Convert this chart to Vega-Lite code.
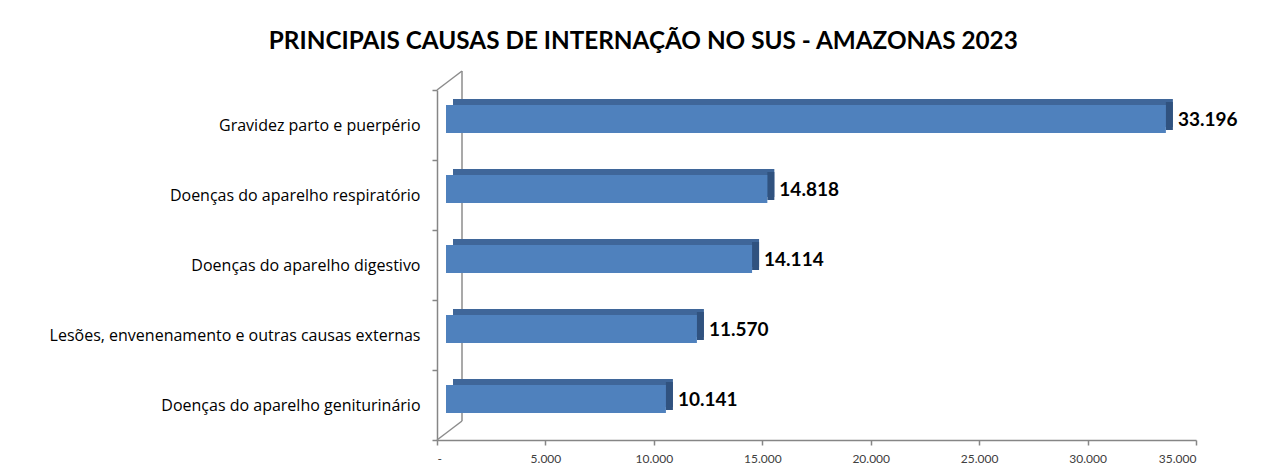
{
  "$schema": "https://vega.github.io/schema/vega-lite/v6.json",
  "width": 759,
  "height": 350,
  "autosize": {"type": "none"},
  "padding": {"left": 437, "top": 90, "right": 76, "bottom": 30},
  "background": "white",
  "title": {
    "text": "PRINCIPAIS CAUSAS DE INTERNAÇÃO NO SUS - AMAZONAS 2023",
    "font": "Lato",
    "fontSize": 24.3,
    "fontWeight": "bold",
    "color": "#000000",
    "anchor": "middle",
    "frame": "bounds",
    "offset": 16
  },
  "config": {
    "locale": {"number": {"decimal": ",", "thousands": ".", "grouping": [3], "currency": ["R$ ", ""]}},
    "view": {"stroke": null}
  },
  "data": {
    "values": [
      {"causa": "Gravidez parto e puerpério", "valor": 33196},
      {"causa": "Doenças do aparelho respiratório", "valor": 14818},
      {"causa": "Doenças do aparelho digestivo", "valor": 14114},
      {"causa": "Lesões, envenenamento e outras causas externas", "valor": 11570},
      {"causa": "Doenças do aparelho geniturinário", "valor": 10141}
    ]
  },
  "layer": [
    {
      "data": {"values": [{}]},
      "mark": {"type": "rule", "color": "#8c8c8c", "strokeWidth": 1.5, "xOffset": 25, "yOffset": -19, "y2Offset": 16},
      "encoding": {
        "x": {"datum": 0, "type": "quantitative"},
        "y": {"datum": "Gravidez parto e puerpério", "type": "nominal", "bandPosition": 0},
        "y2": {"datum": "Doenças do aparelho geniturinário"}
      }
    },
    {
      "data": {"values": [{}]},
      "mark": {"type": "rule", "color": "#8c8c8c", "strokeWidth": 1.5, "x2Offset": 25, "y2Offset": -54},
      "encoding": {
        "x": {"datum": 0, "type": "quantitative"},
        "x2": {"datum": 0},
        "y": {"datum": "Gravidez parto e puerpério", "type": "nominal", "bandPosition": 0},
        "y2": {"datum": "Gravidez parto e puerpério"}
      }
    },
    {
      "data": {"values": [{}]},
      "mark": {"type": "rule", "color": "#8c8c8c", "strokeWidth": 1.5, "x2Offset": 25, "y2Offset": 16},
      "encoding": {
        "x": {"datum": 0, "type": "quantitative"},
        "x2": {"datum": 0},
        "y": {"datum": "Doenças do aparelho geniturinário", "type": "nominal", "bandPosition": 1},
        "y2": {"datum": "Doenças do aparelho geniturinário"}
      }
    },
    {
      "mark": {"type": "bar", "color": "#3F6699", "height": {"band": 0.4}, "xOffset": 16, "x2Offset": 16, "yOffset": -12, "y2Offset": -12},
      "encoding": {
        "x": {"field": "valor", "type": "quantitative"},
        "y": {"field": "causa", "type": "nominal"}
      }
    },
    {
      "mark": {"type": "bar", "color": "#30527F", "height": {"band": 0.4}, "xOffset": 9, "x2Offset": 16, "yOffset": -9, "y2Offset": -9},
      "encoding": {
        "x": {"field": "valor", "type": "quantitative"},
        "x2": {"field": "valor"},
        "y": {"field": "causa", "type": "nominal"}
      }
    },
    {
      "mark": {"type": "bar", "color": "#4F81BD", "height": {"band": 0.4}, "xOffset": 9, "x2Offset": 9, "yOffset": -6, "y2Offset": -6},
      "encoding": {
        "x": {
          "field": "valor",
          "type": "quantitative",
          "scale": {"domain": [0, 35000], "nice": false, "zero": true},
          "axis": {
            "title": null,
            "grid": false,
            "values": [0, 5000, 10000, 15000, 20000, 25000, 30000, 35000],
            "format": ",d",
            "labelExpr": "datum.value == 0 ? '-' : datum.label",
            "domainColor": "#868686",
            "domainWidth": 1.5,
            "tickColor": "#868686",
            "tickWidth": 1.5,
            "tickSize": 5,
            "labelFont": "Lato",
            "labelFontSize": 12,
            "labelColor": "#404040",
            "labelPadding": 8
          }
        },
        "y": {
          "field": "causa",
          "type": "nominal",
          "scale": {
            "domain": [
              "Gravidez parto e puerpério",
              "Doenças do aparelho respiratório",
              "Doenças do aparelho digestivo",
              "Lesões, envenenamento e outras causas externas",
              "Doenças do aparelho geniturinário"
            ],
            "paddingInner": 0,
            "paddingOuter": 0
          },
          "axis": {
            "title": null,
            "tickBand": "extent",
            "domainColor": "#868686",
            "domainWidth": 1.5,
            "tickColor": "#868686",
            "tickWidth": 1.5,
            "tickSize": 5,
            "labelFont": "Open Sans",
            "labelFontSize": 16,
            "labelColor": "#000000",
            "labelPadding": 12,
            "labelLimit": 500
          }
        }
      }
    },
    {
      "mark": {"type": "text", "align": "left", "baseline": "middle", "dx": 21, "dy": -5, "font": "Lato", "fontSize": 19, "fontWeight": "bold", "color": "#000000"},
      "encoding": {
        "x": {"field": "valor", "type": "quantitative"},
        "y": {"field": "causa", "type": "nominal"},
        "text": {"field": "valor", "type": "quantitative", "format": ",d"}
      }
    }
  ]
}
